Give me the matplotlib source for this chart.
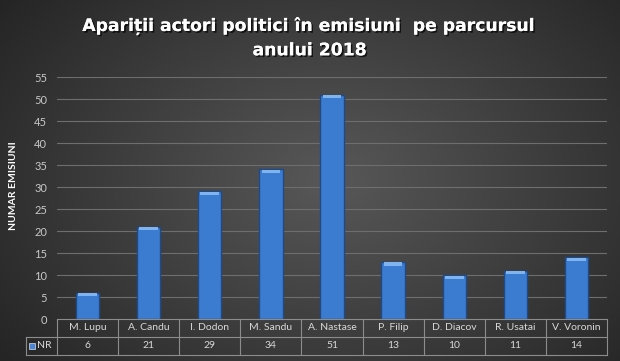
import numpy as np
import matplotlib
matplotlib.use("Agg")
import matplotlib.pyplot as plt
import matplotlib.patheffects as pe
from matplotlib.patches import Rectangle

categories = ["M. Lupu", "A. Candu", "I. Dodon", "M. Sandu", "A. Nastase",
              "P. Filip", "D. Diacov", "R. Usatai", "V. Voronin"]
values = [6, 21, 29, 34, 51, 13, 10, 11, 14]
series_name = "NR"
yticks = list(range(0, 56, 5))
title = "Apariții actori politici în emisiuni  pe parcursul\nanului 2018"
ylabel = "NUMAR EMISIUNI"

W, H = 620, 361
fig = plt.figure(figsize=(W / 100, H / 100), dpi=100)

# radial gradient background
bg = fig.add_axes([0, 0, 1, 1], zorder=-10)
yy, xx = np.mgrid[0:H, 0:W]
r = np.sqrt(((xx - 330) / 420.0) ** 2 + ((yy - 180) / 300.0) ** 2)
r = np.clip(r, 0, 1)
c0 = np.array([0x58, 0x58, 0x58]) / 255.0
c1 = np.array([0x24, 0x24, 0x24]) / 255.0
img = c0[None, None, :] * (1 - r[..., None]) + c1[None, None, :] * r[..., None]
bg.imshow(img, aspect="auto", extent=[0, 1, 0, 1])
bg.axis("off")

left, right = 57 / W, 607 / W
bottom, top = (H - 319) / H, (H - 77) / H
ax = fig.add_axes([left, bottom, right - left, top - bottom])
ax.set_facecolor("none")
n = len(categories)
x = np.arange(n)
ax.set_xlim(-0.5, n - 0.5)
ax.set_ylim(0, 55)
ax.set_yticks(yticks)
for t in yticks[1:]:
    ax.axhline(t, color="#6e6e6e", lw=0.8, zorder=0)
ax.tick_params(axis="y", length=0, colors="#c8c8c8", labelsize=8, pad=7)
ax.set_xticks([])
for s in ax.spines.values():
    s.set_visible(False)
for lab in ax.get_yticklabels():
    lab.set_fontfamily("Lato")

bw = 0.38
ax.bar(x, values, width=bw, color="#3b7cd0", edgecolor="#1f4a85", lw=1.0, zorder=2)
cap = [0.7] * n
ax.bar(x, cap, width=bw * 0.8, bottom=np.array(values) - 0.85, color="#80b4f0",
       edgecolor="none", zorder=3)

fig.text(0.5, 0.895, title, ha="center", va="center", color="white",
         fontsize=12.4, fontweight="bold", family="DejaVu Sans", linespacing=1.45,
         path_effects=[pe.withSimplePatchShadow(offset=(1.2, -1.2),
                                                shadow_rgbFace="black", alpha=0.7),
                       pe.Normal()])
fig.text(13 / W, 1 - 186 / H, ylabel, rotation=90, ha="center", va="center",
         color="white", fontsize=7.5, fontweight="bold", family="Lato")

# data table below axis
ah = (319 - 77)
rh1 = 18 / ah
rh2 = 18 / ah
aw = 607 - 57
lw_ = 31 / aw
lc = "#8c8c8c"
tr = ax.transAxes
def line(xs, ys):
    ax.plot(xs, ys, color=lc, lw=0.8, transform=tr, clip_on=False)
line([0, 1], [0, 0])
line([-lw_, 1], [-rh1, -rh1])
line([-lw_, 1], [-rh1 - rh2, -rh1 - rh2])
line([-lw_, -lw_], [-rh1, -rh1 - rh2])
for i in range(n + 1):
    line([i / n, i / n], [0, -rh1 - rh2])
for i, (c, v) in enumerate(zip(categories, values)):
    cx = (i + 0.5) / n
    ax.text(cx, -rh1 / 2, c, transform=tr, ha="center", va="center",
            color="#d8d8d8", fontsize=7.5, family="Lato")
    ax.text(cx, -rh1 - rh2 / 2, str(v), transform=tr, ha="center", va="center",
            color="#d8d8d8", fontsize=7.5, family="Lato")
ax.add_patch(Rectangle((-lw_ + 3 / aw, -rh1 - rh2 / 2 - 3 / ah), 6 / aw, 6 / ah,
                       transform=tr, clip_on=False, facecolor="#4a86d8",
                       edgecolor="#dddddd", lw=0.5))
ax.text(-lw_ + 11 / aw, -rh1 - rh2 / 2, series_name, transform=tr, ha="left",
        va="center", color="#d8d8d8", fontsize=7.5, family="Lato")

fig.savefig("out.png", dpi=100)
